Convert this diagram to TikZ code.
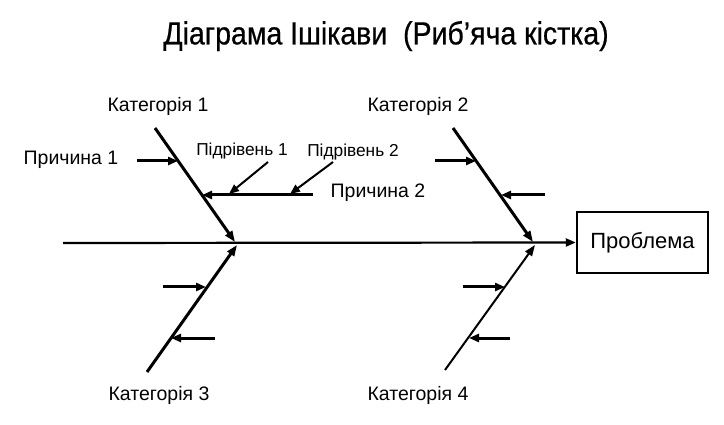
\documentclass[tikz,border=0pt]{standalone}
\usepackage{fontspec}
\setmainfont{Liberation Sans}
\newfontfamily\titlefont[FakeStretch=0.89,FakeBold=0.6]{Liberation Sans}
\usetikzlibrary{arrows.meta}
\begin{document}
\begin{tikzpicture}[x=1pt,y=-1pt,
  lbl/.style={inner sep=0pt,font=\fontsize{19.5}{21}\selectfont},
  sublbl/.style={inner sep=0pt,font=\fontsize{17.3}{19}\selectfont},
  bone/.style={line width=3pt,-{Triangle[length=11pt,width=8pt]}},
  thinbone/.style={line width=2pt,-{Triangle[length=11pt,width=8pt]}},
  cause/.style={line width=3pt,-{Triangle[length=10pt,width=8pt]}},
  sub/.style={line width=2pt,-{Triangle[length=10pt,width=8pt]}},
  spine/.style={line width=2.2pt,-{Triangle[length=10pt,width=8pt]}}]
\useasboundingbox (0,0) rectangle (724,425);
\fill[white] (0,0) rectangle (724,425);
% title
\node[inner sep=0pt,font=\titlefont\fontsize{32}{35}\selectfont] (title) at (386,36) {Діаграма Ішікави~~(Риб’яча кістка)};
% spine and problem
\coordinate (s0) at (63,243);
\node[draw,line width=2.5pt,minimum width=131pt,minimum height=61pt,inner sep=0pt,font=\fontsize{22}{24}\selectfont] (prob) at (642.5,242.5) {Проблема};
\draw[spine] (s0) -- (prob.west);
% category labels
\node[lbl] (c1) at (158,106) {Категорія 1};
\node[lbl] (c2) at (418,106) {Категорія 2};
\node[lbl] (c3) at (159,395) {Категорія 3};
\node[lbl] (c4) at (418,395) {Категорія 4};
% bones
\coordinate (b1s) at (155,128); \coordinate (b1e) at (235,242);
\coordinate (b2s) at (453,128); \coordinate (b2e) at (533,242);
\coordinate (b3s) at (147,372); \coordinate (b3e) at (237,245);
\coordinate (b4s) at (445,370); \coordinate (b4e) at (535,245);
\draw[bone] (b1s) -- (b1e);
\draw[bone] (b2s) -- (b2e);
\draw[bone] (b3s) -- (b3e);
\draw[thinbone] (b4s) -- (b4e);
% causes on category 1
\node[lbl] (p1) at (71,160) {Причина 1};
\coordinate (p1s) at (137,161); \coordinate (p1e) at (178,161);
\draw[cause] (p1s) -- (p1e);
\node[lbl] (p2) at (378,193) {Причина 2};
\coordinate (p2s) at (313,195); \coordinate (p2e) at (202,195);
\draw[cause] (p2s) -- (p2e);
\node[sublbl] (s1) at (242,151) {Підрівень 1};
\node[sublbl] (s2) at (353,152) {Підрівень 2};
\coordinate (s1s) at (268,162); \coordinate (s1e) at (229,194);
\coordinate (s2s) at (333,162); \coordinate (s2e) at (290,194);
\draw[sub] (s1s) -- (s1e);
\draw[sub] (s2s) -- (s2e);
% causes on category 2
\coordinate (q1s) at (435,161); \coordinate (q1e) at (476,161);
\coordinate (q2s) at (545,195); \coordinate (q2e) at (501,195);
\draw[cause] (q1s) -- (q1e);
\draw[cause] (q2s) -- (q2e);
% causes on category 3
\coordinate (r1s) at (163,287); \coordinate (r1e) at (206,287);
\coordinate (r2s) at (215,338); \coordinate (r2e) at (171,338);
\draw[cause] (r1s) -- (r1e);
\draw[cause] (r2s) -- (r2e);
% causes on category 4
\coordinate (t1s) at (463,287); \coordinate (t1e) at (505,287);
\coordinate (t2s) at (510,338); \coordinate (t2e) at (469,338);
\draw[cause] (t1s) -- (t1e);
\draw[cause] (t2s) -- (t2e);
\end{tikzpicture}
\end{document}
